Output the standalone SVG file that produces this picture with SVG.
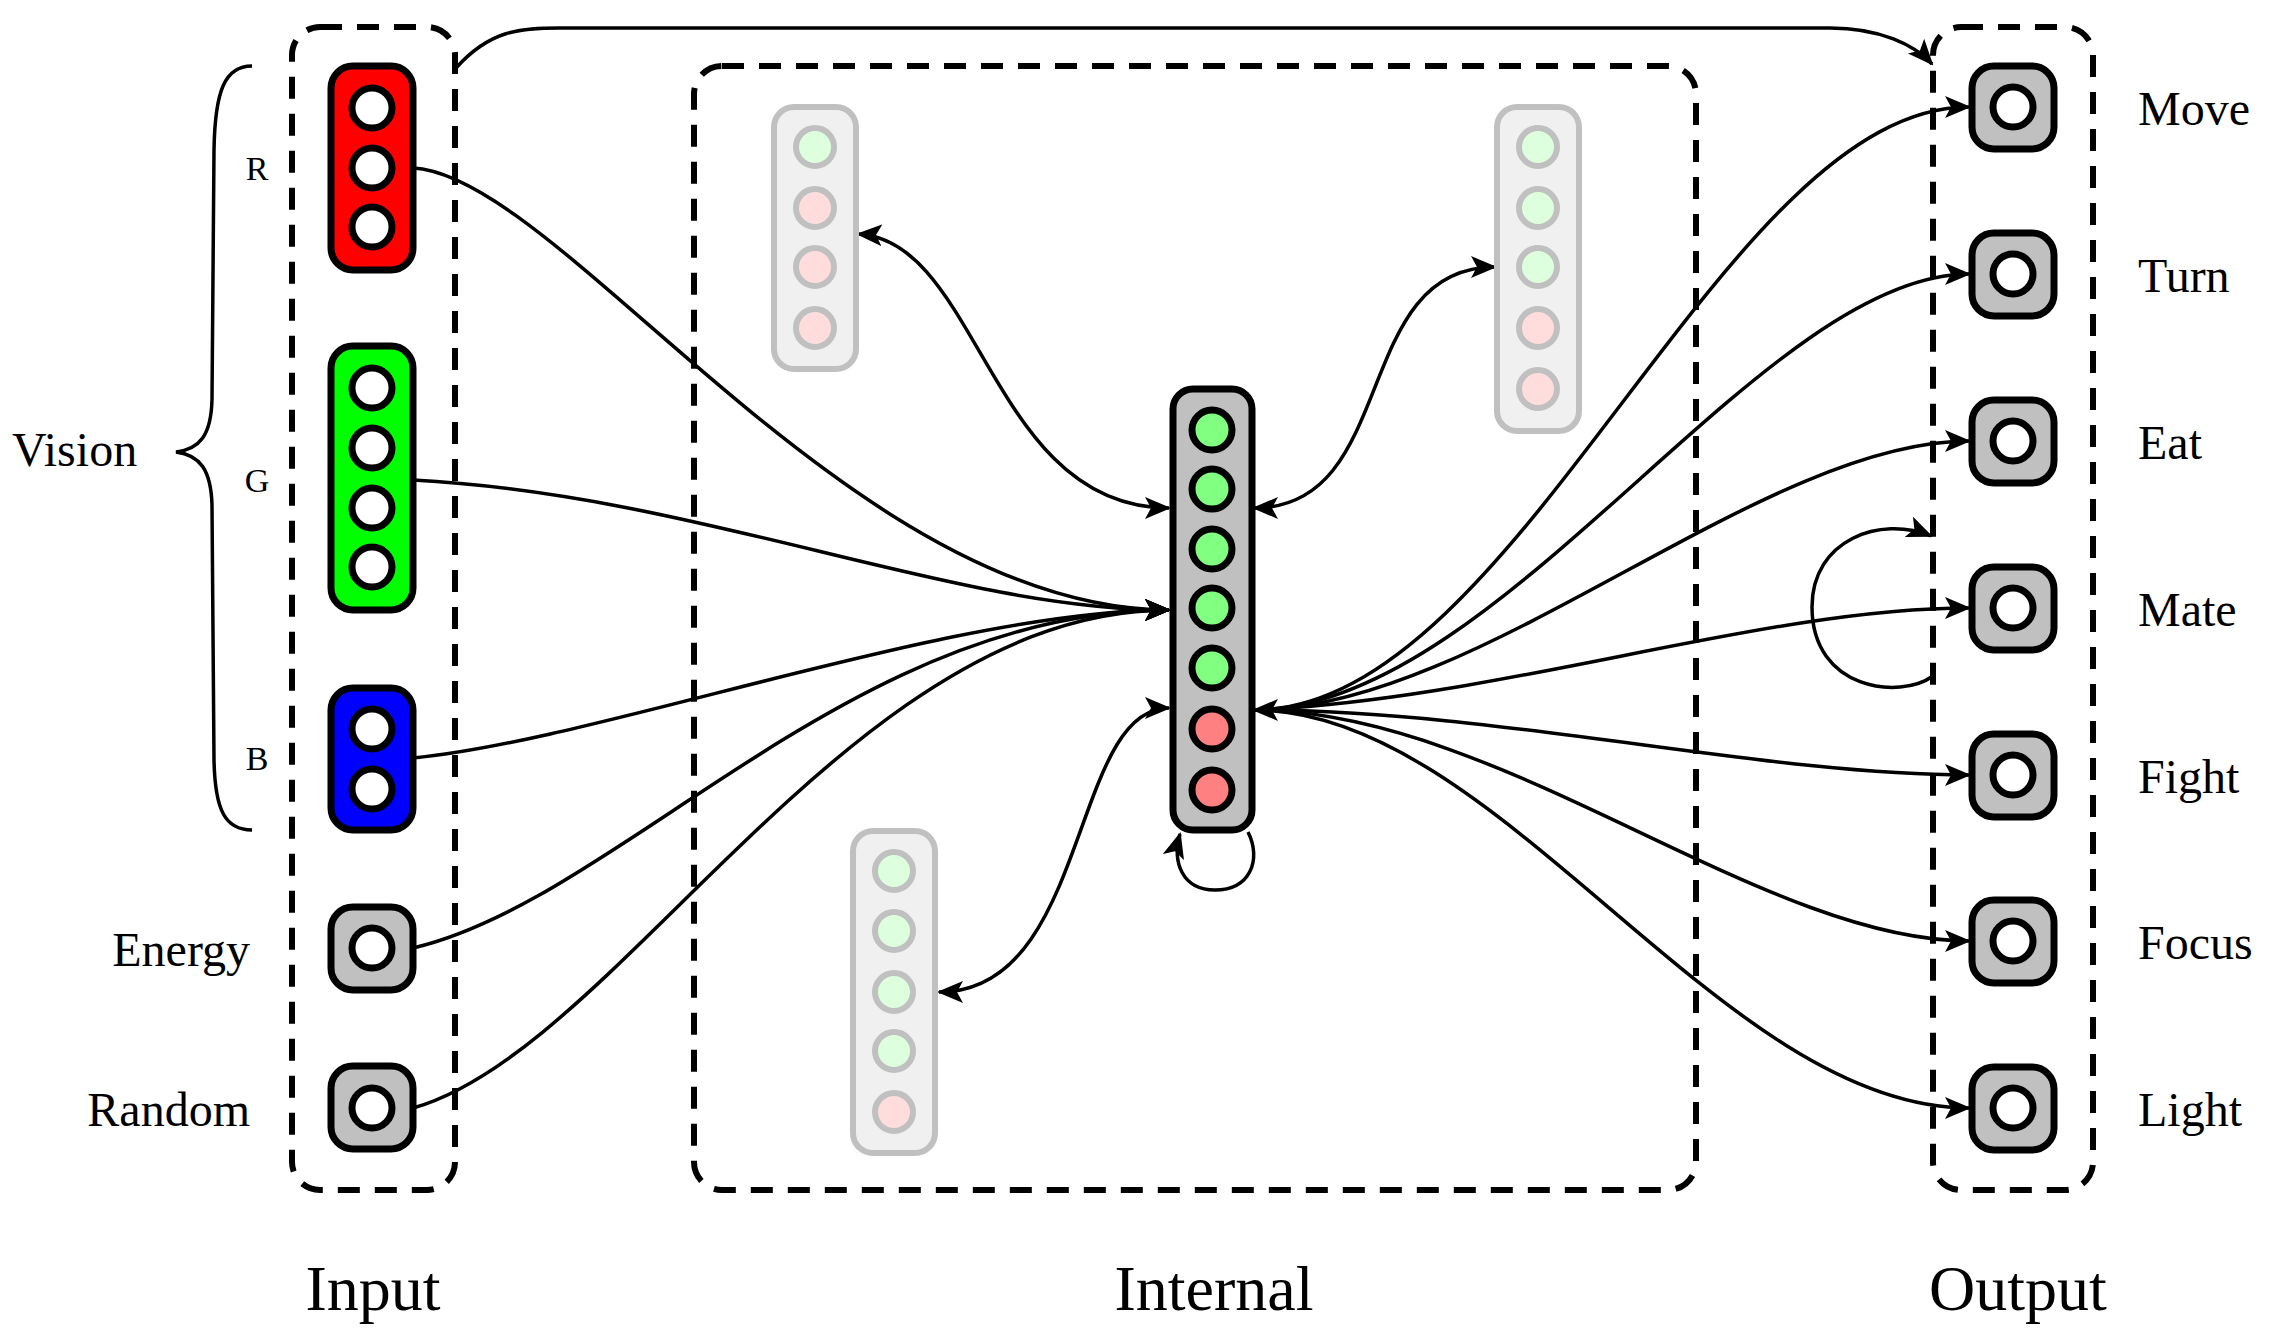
<svg xmlns="http://www.w3.org/2000/svg" width="2270" height="1340" viewBox="0 0 2270 1340">
<defs>
<marker id="ah" markerUnits="userSpaceOnUse" markerWidth="26" markerHeight="22" refX="24" refY="11" orient="auto-start-reverse" viewBox="0 0 26 22">
<path d="M0,0 L26,11 L0,22 L6,11 z" fill="#000"/>
</marker>
<style>
.grp{fill:none;stroke:#000;stroke-width:6;stroke-dasharray:22 15}
.c{fill:none;stroke:#000;stroke-width:3.5}
.a{marker-end:url(#ah)}
.b{marker-start:url(#ah);marker-end:url(#ah)}
.node{stroke:#000;stroke-width:7}
.in{fill:#fff;stroke:#000;stroke-width:7}
.ig{fill:#80ff80;stroke:#000;stroke-width:7}
.ir{fill:#ff8080;stroke:#000;stroke-width:7}
.fade{fill:#f0f0f0;stroke:#c0c0c0;stroke-width:6}
.fg{fill:#ddffdd;stroke:#c0c0c0;stroke-width:6}
.fr{fill:#ffdddd;stroke:#c0c0c0;stroke-width:6}
.t{font-family:"Liberation Serif",serif;fill:#000}
.lab{font-size:48px}
.small{font-size:34px}
.big{font-size:64px}
</style>
</defs>
<g id="groups">
<rect class="grp" x="292" y="27" width="163" height="1163" rx="28"/>
<rect class="grp" x="694" y="66" width="1002" height="1124" rx="28"/>
<rect class="grp" x="1933" y="27" width="160" height="1163" rx="28"/>
</g>
<g id="connectors">
<path class="c a" d="M456,68 C490,30 520,28 560,28 L1830,28 C1880,28 1915,45 1932,64"/>
<path class="c a" d="M413,168 C560,175 850,610 1169,610"/>
<path class="c a" d="M413,480 C700,495 950,610 1169,610"/>
<path class="c a" d="M413,758 C600,740 950,610 1169,610"/>
<path class="c a" d="M413,948 C620,900 850,610 1169,610"/>
<path class="c a" d="M413,1108 C620,1050 850,610 1169,610"/>
<path class="c b" d="M858,234 C980,240 990,508 1169,508"/>
<path class="c b" d="M1254,508 C1400,508 1350,267 1495,267"/>
<path class="c b" d="M1169,708 C1070,708 1090,992 939,992"/>
<path class="c a" d="M1248,832 C1262,860 1250,890 1215,890 C1182,890 1172,862 1180,834"/>
<path class="c b" d="M1254,710 C1520,710 1720,107 1969,107"/>
<path class="c a" d="M1254,710 C1500,710 1760,274 1969,274"/>
<path class="c a" d="M1254,710 C1480,710 1760,441 1969,441"/>
<path class="c a" d="M1254,710 C1500,700 1760,608 1969,608"/>
<path class="c a" d="M1254,710 C1500,710 1760,775 1969,775"/>
<path class="c a" d="M1254,710 C1500,710 1760,941 1969,941"/>
<path class="c a" d="M1254,710 C1500,710 1720,1108 1969,1108"/>
<path class="c a" d="M1933,676 C1900,700 1812,690 1812,607 C1812,540 1880,515 1931,536"/>
</g>
<g id="input-R">
<rect class="node" x="331" y="66" width="82" height="204" rx="22" fill="#ff0000"/>
<circle class="in" cx="372" cy="108" r="20"/><circle class="in" cx="372" cy="168" r="20"/><circle class="in" cx="372" cy="227" r="20"/>
</g>
<g id="input-G">
<rect class="node" x="331" y="346" width="82" height="264" rx="22" fill="#00ff00"/>
<circle class="in" cx="372" cy="388" r="20"/><circle class="in" cx="372" cy="448" r="20"/><circle class="in" cx="372" cy="508" r="20"/><circle class="in" cx="372" cy="567" r="20"/>
</g>
<g id="input-B">
<rect class="node" x="331" y="688" width="82" height="142" rx="22" fill="#0000ff"/>
<circle class="in" cx="372" cy="729" r="20"/><circle class="in" cx="372" cy="789" r="20"/>
</g>
<g id="input-energy">
<rect class="node" x="331" y="907" width="82" height="83" rx="22" fill="#c0c0c0"/>
<circle class="in" cx="372" cy="948" r="20"/>
</g>
<g id="input-random">
<rect class="node" x="331" y="1066" width="82" height="83" rx="22" fill="#c0c0c0"/>
<circle class="in" cx="372" cy="1108" r="20"/>
</g>
<g id="internal-main">
<rect class="node" x="1173" y="389" width="79" height="441" rx="20" fill="#c0c0c0"/>
<circle class="ig" cx="1212" cy="430" r="20"/>
<circle class="ig" cx="1212" cy="489" r="20"/>
<circle class="ig" cx="1212" cy="549" r="20"/>
<circle class="ig" cx="1212" cy="608" r="20"/>
<circle class="ig" cx="1212" cy="668" r="20"/>
<circle class="ir" cx="1212" cy="729" r="20"/>
<circle class="ir" cx="1212" cy="790" r="20"/>
</g>
<g id="internal-tl">
<rect class="fade" x="774" y="107" width="82" height="262" rx="20"/>
<circle class="fg" cx="815" cy="147" r="19"/><circle class="fr" cx="815" cy="208" r="19"/><circle class="fr" cx="815" cy="267" r="19"/><circle class="fr" cx="815" cy="328" r="19"/>
</g>
<g id="internal-tr">
<rect class="fade" x="1497" y="107" width="82" height="324" rx="20"/>
<circle class="fg" cx="1538" cy="147" r="19"/><circle class="fg" cx="1538" cy="208" r="19"/><circle class="fg" cx="1538" cy="267" r="19"/><circle class="fr" cx="1538" cy="328" r="19"/><circle class="fr" cx="1538" cy="389" r="19"/>
</g>
<g id="internal-bottom">
<rect class="fade" x="853" y="831" width="82" height="322" rx="20"/>
<circle class="fg" cx="894" cy="871" r="19"/><circle class="fg" cx="894" cy="931" r="19"/><circle class="fg" cx="894" cy="992" r="19"/><circle class="fg" cx="894" cy="1051" r="19"/><circle class="fr" cx="894" cy="1112" r="19"/>
</g>
<g id="outputs">
<g id="out-move"><rect class="node" x="1972" y="66" width="82" height="83" rx="22" fill="#c0c0c0"/><circle class="in" cx="2013" cy="107" r="20"/></g>
<g id="out-turn"><rect class="node" x="1972" y="233" width="82" height="83" rx="22" fill="#c0c0c0"/><circle class="in" cx="2013" cy="274" r="20"/></g>
<g id="out-eat"><rect class="node" x="1972" y="400" width="82" height="83" rx="22" fill="#c0c0c0"/><circle class="in" cx="2013" cy="441" r="20"/></g>
<g id="out-mate"><rect class="node" x="1972" y="567" width="82" height="83" rx="22" fill="#c0c0c0"/><circle class="in" cx="2013" cy="608" r="20"/></g>
<g id="out-fight"><rect class="node" x="1972" y="734" width="82" height="83" rx="22" fill="#c0c0c0"/><circle class="in" cx="2013" cy="775" r="20"/></g>
<g id="out-focus"><rect class="node" x="1972" y="900" width="82" height="83" rx="22" fill="#c0c0c0"/><circle class="in" cx="2013" cy="941" r="20"/></g>
<g id="out-light"><rect class="node" x="1972" y="1067" width="82" height="83" rx="22" fill="#c0c0c0"/><circle class="in" cx="2013" cy="1108" r="20"/></g>
</g>
<g id="brace">
<path class="c" d="M252,66 C225,66 215,90 214,150 L212,400 C211,435 200,449 176,452 C200,455 211,470 212,505 L214,760 C215,810 225,830 252,830"/>
</g>
<g id="labels" class="t">
<text class="small" x="257" y="180" text-anchor="middle">R</text>
<text class="small" x="257" y="492" text-anchor="middle">G</text>
<text class="small" x="257" y="770" text-anchor="middle">B</text>
<text class="lab" x="12" y="466">Vision</text>
<text class="lab" x="250" y="966" text-anchor="end">Energy</text>
<text class="lab" x="250" y="1126" text-anchor="end">Random</text>
<text class="lab" x="2138" y="125">Move</text>
<text class="lab" x="2138" y="292">Turn</text>
<text class="lab" x="2138" y="459">Eat</text>
<text class="lab" x="2138" y="626">Mate</text>
<text class="lab" x="2138" y="793">Fight</text>
<text class="lab" x="2138" y="959">Focus</text>
<text class="lab" x="2138" y="1126">Light</text>
<text class="big" x="373" y="1310" text-anchor="middle">Input</text>
<text class="big" x="1214" y="1310" text-anchor="middle">Internal</text>
<text class="big" x="2018" y="1310" text-anchor="middle">Output</text>
</g>
</svg>
